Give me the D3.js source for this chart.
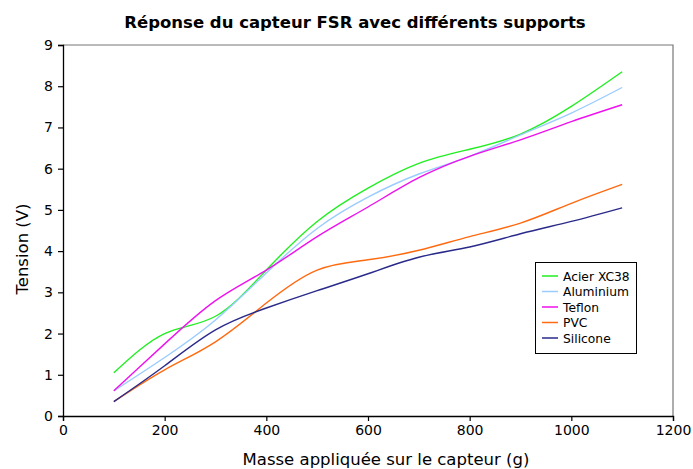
<!DOCTYPE html>
<html><head><meta charset="utf-8">
<script src="https://cdn.jsdelivr.net/npm/d3@7"></script>
<style>body{margin:0;background:#fff}svg{display:block;font-family:"DejaVu Sans",sans-serif}</style>
</head><body><svg id="c" width="693" height="469"></svg>
<script>
const masses = [100,200,300,400,500,600,700,800,900,1000,1100];
const acier    = [1.05,2.00,2.42,3.54,4.72,5.53,6.13,6.47,6.84,7.51,8.35];
const aluminium= [0.61,1.42,2.33,3.47,4.55,5.31,5.87,6.30,6.82,7.35,7.97];
const teflon   = [0.61,1.75,2.80,3.54,4.35,5.07,5.78,6.30,6.70,7.14,7.55];
const pvc      = [0.35,1.12,1.80,2.74,3.54,3.79,4.02,4.35,4.68,5.16,5.62];
const silicone = [0.35,1.22,2.09,2.62,3.04,3.45,3.85,4.10,4.42,4.72,5.05];
const seriesNames = ["Acier XC38","Aluminium","Teflon","PVC","Silicone"];
const seriesColors = ["#22ee22","#99ccff","#ee11ee","#ff6a10","#2a2a8a"];
const xTicks = [0,200,400,600,800,1000,1200];
const yTicks = [0,1,2,3,4,5,6,7,8,9];

const series = [acier,aluminium,teflon,pvc,silicone].map((v,i)=>({name:seriesNames[i],color:seriesColors[i],values:v}));
const svg = d3.select("#c");
const L=63,R=673,T=45,B=416;
const x = d3.scaleLinear().domain([0,1200]).range([L,R]);
const y = d3.scaleLinear().domain([0,9]).range([B,T]);

// frame top/right
svg.append("path").attr("d",`M${L},${T}H${R}V${B}`).attr("fill","none").attr("stroke","#777").attr("stroke-width",1.2);

const line = d3.line().x((d,i)=>x(masses[i])).y(d=>y(d)).curve(d3.curveNatural);
series.forEach(s=>{
  svg.append("path").attr("d",line(s.values)).attr("fill","none").attr("stroke",s.color).attr("stroke-width",1.4);
});

const xa = svg.append("g").attr("transform",`translate(0,${B})`).call(d3.axisBottom(x).tickValues(xTicks).tickSize(5).tickPadding(4).tickFormat(d3.format("d")));
const ya = svg.append("g").attr("transform",`translate(${L},0)`).call(d3.axisLeft(y).tickValues(yTicks).tickSize(5).tickPadding(5));
[xa,ya].forEach(a=>{
  a.select(".domain").attr("stroke","#000").attr("stroke-width",1.3);
  a.selectAll(".tick line").attr("stroke","#000").attr("stroke-width",1.2);
  a.selectAll("text").attr("font-size",14).attr("font-family","DejaVu Sans").attr("fill","#000");
});

svg.append("text").attr("x",355).attr("y",28).attr("text-anchor","middle").attr("font-weight","bold").attr("font-size",16.5).text("Réponse du capteur FSR avec différents supports");
svg.append("text").attr("x",386).attr("y",465).attr("text-anchor","middle").attr("font-size",16.5).text("Masse appliquée sur le capteur (g)");
svg.append("text").attr("transform","translate(28,249) rotate(-90)").attr("text-anchor","middle").attr("font-size",16.5).text("Tension (V)");

// legend
const lg = svg.append("g");
lg.append("rect").attr("x",535.5).attr("y",262.5).attr("width",101).attr("height",91).attr("fill","#fff").attr("stroke","#000").attr("stroke-width",1);
series.forEach((s,i)=>{
  const yy = 276 + i*15.5;
  lg.append("line").attr("x1",542).attr("x2",558).attr("y1",yy).attr("y2",yy).attr("stroke",s.color).attr("stroke-width",1.5);
  lg.append("text").attr("x",563).attr("y",yy+4.5).attr("font-size",12.3).text(s.name);
});
</script></body></html>
